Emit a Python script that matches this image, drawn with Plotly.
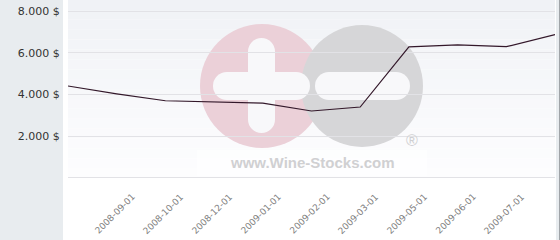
import plotly.graph_objects as go

# ---- data ----
categories = ["p0", "2008-09-01", "2008-10-01", "2008-12-01", "2009-01-01",
              "2009-02-01", "2009-03-01", "2009-05-01", "2009-06-01", "2009-07-01", "p10"]
values = [4407, 4030, 3700, 3650, 3590, 3210, 3400, 6280, 6380, 6290, 6870]
tick_labels = ["2008-09-01", "2008-10-01", "2008-12-01", "2009-01-01",
               "2009-02-01", "2009-03-01", "2009-05-01", "2009-06-01", "2009-07-01"]
y_tickvals = [0, 2000, 4000, 6000, 8000]
y_ticktext = ["", "2.000 $", "4.000 $", "6.000 $", "8.000 $"]

W, H = 560, 240
L, R, T, B = 68, 555, 0, 178  # plot area in pixels


def pxx(x):
    return (x - L) / (R - L)


def pxy(y):
    return (B - y) / (B - T)


fig = go.Figure()
fig.add_trace(go.Scatter(
    x=categories, y=values, mode="lines",
    line=dict(color="#33182a", width=1.2),
    hoverinfo="skip", showlegend=False,
))

shapes = []
# gradient plot background
nb = 18
c0 = (240, 242, 246)
c1 = (253, 253, 254)
for i in range(nb):
    t = i / (nb - 1)
    c = tuple(round(c0[k] + (c1[k] - c0[k]) * t) for k in range(3))
    shapes.append(dict(type="rect", xref="paper", yref="paper", layer="below",
                       x0=0, x1=1, y0=pxy(T + (B - T) * (i + 1) / nb), y1=pxy(T + (B - T) * i / nb),
                       fillcolor="rgb(%d,%d,%d)" % c, line=dict(width=0)))
# left panel
shapes.append(dict(type="rect", xref="paper", yref="paper", layer="below",
                   x0=pxx(0), x1=pxx(63), y0=pxy(240), y1=pxy(0),
                   fillcolor="#e8ecef", line=dict(width=0)))
# right strip
shapes.append(dict(type="rect", xref="paper", yref="paper", layer="below",
                   x0=pxx(556), x1=pxx(560), y0=pxy(240), y1=pxy(0),
                   fillcolor="#e8ecef", line=dict(width=0)))
shapes.append(dict(type="line", xref="paper", yref="paper", layer="above",
                   x0=pxx(559.5), x1=pxx(559.5), y0=pxy(240), y1=pxy(0),
                   line=dict(color="#a0a4a8", width=1)))


def circle(cx, cy, r, color):
    return dict(type="circle", xref="paper", yref="paper", layer="below",
                x0=pxx(cx - r), x1=pxx(cx + r), y0=pxy(cy + r), y1=pxy(cy - r),
                fillcolor=color, line=dict(width=0))


def rect(x0, y0, x1, y1, color):
    return dict(type="rect", xref="paper", yref="paper", layer="below",
                x0=pxx(x0), x1=pxx(x1), y0=pxy(y1), y1=pxy(y0),
                fillcolor=color, line=dict(width=0))


def bar(x0, y0, x1, y1, color):
    out = []
    w, h = x1 - x0, y1 - y0
    if w >= h:
        r = h / 2
        out.append(rect(x0 + r, y0, x1 - r, y1, color))
        out.append(circle(x0 + r, y0 + r, r, color))
        out.append(circle(x1 - r, y0 + r, r, color))
    else:
        r = w / 2
        out.append(rect(x0, y0 + r, x1, y1 - r, color))
        out.append(circle(x0 + r, y0 + r, r, color))
        out.append(circle(x0 + r, y1 - r, r, color))
    return out


pink = "#ebd0d8"
grey = "#d6d6d8"
hole = "#f8f8fa"
shapes.append(circle(262, 86, 62, pink))
shapes.append(circle(362, 86, 61, grey))
shapes += bar(248, 38, 275, 133, hole)
shapes += bar(213, 72, 310, 100, hole)
shapes += bar(315, 72, 410, 100, hole)
shapes.append(rect(197, 150, 427, 176, "rgba(255,255,255,0.6)"))
# bottom grid line (value 0)
shapes.append(dict(type="line", xref="paper", yref="paper", layer="below",
                   x0=0, x1=1, y0=pxy(177.5), y1=pxy(177.5),
                   line=dict(color="#e2e2e6", width=1)))

annotations = []
annotations.append(dict(xref="paper", yref="paper", x=pxx(312), y=pxy(162),
                        text="<b>www.Wine-Stocks.com</b>", showarrow=False,
                        font=dict(family="Liberation Sans", size=15, color="#d0d0d2"),
                        xanchor="center", yanchor="middle"))
annotations.append(dict(xref="paper", yref="paper", x=pxx(412), y=pxy(140),
                        text="®", showarrow=False,
                        font=dict(family="Liberation Sans", size=16, color="#cfcfd1"),
                        xanchor="center", yanchor="middle"))
for lab in tick_labels:
    annotations.append(dict(xref="x", yref="paper", x=lab, y=pxy(214), xshift=-2,
                            text=lab, showarrow=False, textangle=-45,
                            font=dict(family="DejaVu Sans", size=9, color="#808080"),
                            xanchor="center", yanchor="middle"))

fig.update_layout(
    width=W, height=H,
    margin=dict(l=L, r=W - R, t=T, b=H - B, pad=0),
    paper_bgcolor="white",
    plot_bgcolor="rgba(0,0,0,0)",
    shapes=shapes,
    annotations=annotations,
    showlegend=False,
    xaxis=dict(type="category", range=[0, len(categories) - 1], showgrid=False,
               showticklabels=False, zeroline=False, showline=False, ticks=""),
    yaxis=dict(range=[0, 8527], tickvals=y_tickvals, ticktext=y_ticktext,
               showgrid=True, gridcolor="#e2e2e6", gridwidth=1, zeroline=False,
               showline=False, ticks="outside", ticklen=5, tickcolor="rgba(0,0,0,0)",
               tickfont=dict(family="DejaVu Sans", size=11, color="#333333")),
)

fig.write_html("out.html")
